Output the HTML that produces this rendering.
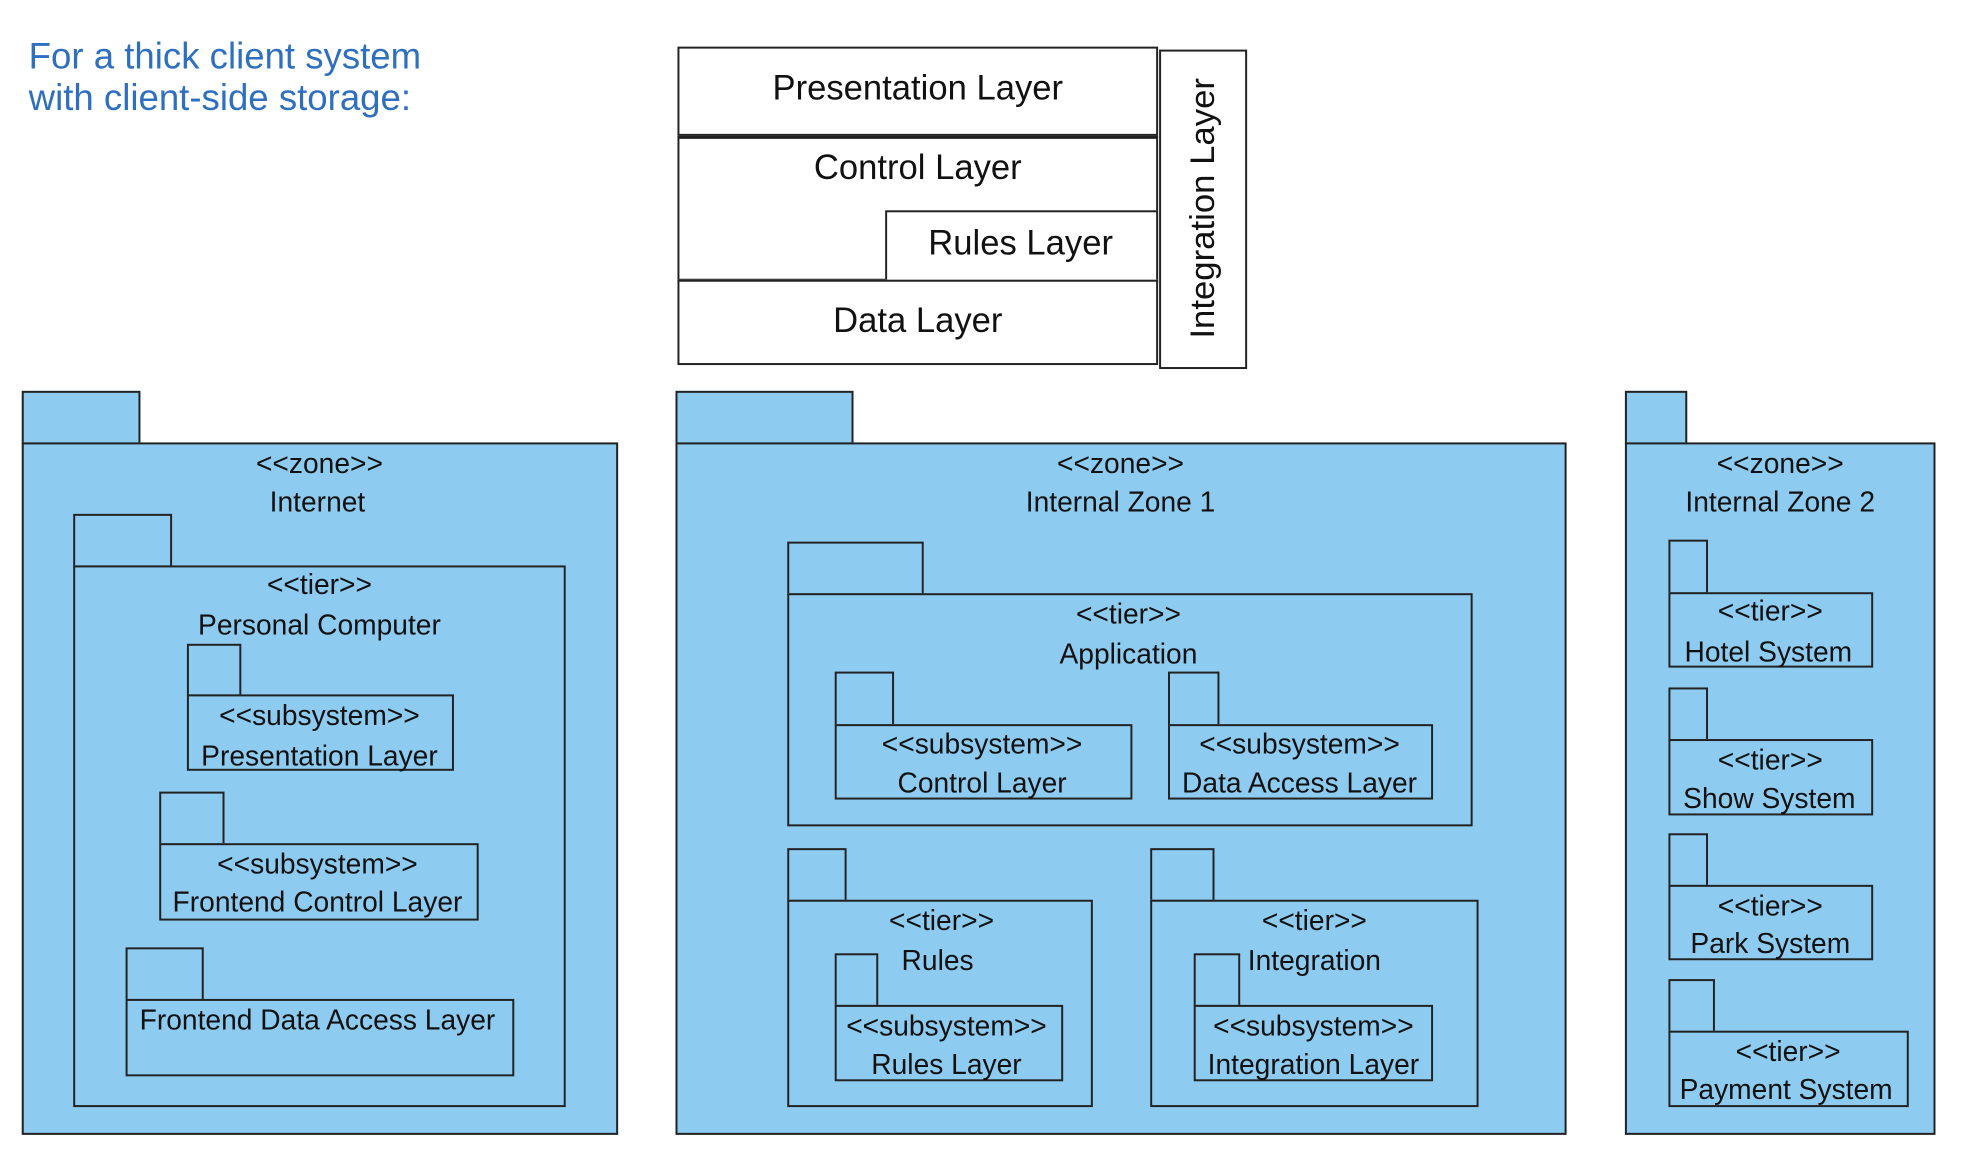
<!DOCTYPE html>
<html><head><meta charset="utf-8"><style>
body{margin:0;width:1984px;height:1168px;background:#fff;position:relative;overflow:hidden;font-family:"Liberation Sans",Arial,sans-serif;}
#c{position:absolute;left:0;top:0;width:1984px;height:1168px;transform:scale(0.989,0.992);transform-origin:0 0;}
.b{position:absolute;box-sizing:border-box;border:2px solid #222;background:#8ecbf0;}
.w{position:absolute;box-sizing:border-box;border:2px solid #222;background:#fff;}
.t{position:absolute;transform:translate(-50%,-50%);white-space:nowrap;font-size:28.5px;color:#111;line-height:1;}
.L{font-size:35px;}
</style></head><body><div id="c">
<div style="position:absolute;left:29px;top:36px;font-size:37px;color:#2f6fc0;line-height:42px;">For a thick client system<br>with client-side storage:</div>

<div class="w" style="left:685px;top:47px;width:486px;height:92px;border-bottom-width:4px"></div>
<div class="w" style="left:685px;top:137px;width:486px;height:148px;border-top-width:3px;border-bottom-width:4px"></div>
<div class="w" style="left:895px;top:212px;width:276px;height:72px"></div>
<div class="w" style="left:685px;top:282px;width:486px;height:86px;border-top-width:2px"></div>
<div class="w" style="left:1172px;top:50px;width:89px;height:322px"></div>
<div class="t L" style="left:928px;top:89px">Presentation Layer</div>
<div class="t L" style="left:928px;top:169px">Control Layer</div>
<div class="t L" style="left:1032px;top:245px">Rules Layer</div>
<div class="t L" style="left:928px;top:323px">Data Layer</div>
<div class="t L" style="left:1216px;top:210px;transform:translate(-50%,-50%) rotate(-90deg)">Integration Layer</div>

<div class="b" style="left:22px;top:394px;width:120px;height:54px"></div>
<div class="b" style="left:22px;top:446px;width:603px;height:698px"></div>
<div class="t" style="left:323px;top:468px">&lt;&lt;zone&gt;&gt;</div>
<div class="t" style="left:321px;top:507px">Internet</div>
<div class="b" style="left:74px;top:518px;width:100px;height:54px"></div>
<div class="b" style="left:74px;top:570px;width:498px;height:546px"></div>
<div class="t" style="left:323px;top:590px">&lt;&lt;tier&gt;&gt;</div>
<div class="t" style="left:323px;top:631px">Personal Computer</div>
<div class="b" style="left:189px;top:649px;width:55px;height:53px"></div>
<div class="b" style="left:189px;top:700px;width:270px;height:77px"></div>
<div class="t" style="left:323px;top:722px">&lt;&lt;subsystem&gt;&gt;</div>
<div class="t" style="left:323px;top:763px">Presentation Layer</div>
<div class="b" style="left:161px;top:798px;width:66px;height:54px"></div>
<div class="b" style="left:161px;top:850px;width:323px;height:78px"></div>
<div class="t" style="left:321px;top:872px">&lt;&lt;subsystem&gt;&gt;</div>
<div class="t" style="left:321px;top:910px">Frontend Control Layer</div>
<div class="b" style="left:127px;top:955px;width:79px;height:54px"></div>
<div class="b" style="left:127px;top:1007px;width:393px;height:78px"></div>
<div class="t" style="left:321px;top:1029px">Frontend Data Access Layer</div>

<div class="b" style="left:683px;top:394px;width:180px;height:54px"></div>
<div class="b" style="left:683px;top:446px;width:901px;height:698px"></div>
<div class="t" style="left:1133px;top:468px">&lt;&lt;zone&gt;&gt;</div>
<div class="t" style="left:1133px;top:507px">Internal Zone 1</div>
<div class="b" style="left:796px;top:546px;width:138px;height:54px"></div>
<div class="b" style="left:796px;top:598px;width:693px;height:235px"></div>
<div class="t" style="left:1141px;top:620px">&lt;&lt;tier&gt;&gt;</div>
<div class="t" style="left:1141px;top:660px">Application</div>
<div class="b" style="left:844px;top:677px;width:60px;height:55px"></div>
<div class="b" style="left:844px;top:730px;width:301px;height:76px"></div>
<div class="t" style="left:993px;top:751px">&lt;&lt;subsystem&gt;&gt;</div>
<div class="t" style="left:993px;top:790px">Control Layer</div>
<div class="b" style="left:1181px;top:677px;width:52px;height:55px"></div>
<div class="b" style="left:1181px;top:730px;width:268px;height:76px"></div>
<div class="t" style="left:1314px;top:751px">&lt;&lt;subsystem&gt;&gt;</div>
<div class="t" style="left:1314px;top:790px">Data Access Layer</div>
<div class="b" style="left:796px;top:855px;width:60px;height:54px"></div>
<div class="b" style="left:796px;top:907px;width:309px;height:209px"></div>
<div class="t" style="left:952px;top:929px">&lt;&lt;tier&gt;&gt;</div>
<div class="t" style="left:948px;top:969px">Rules</div>
<div class="b" style="left:844px;top:961px;width:44px;height:54px"></div>
<div class="b" style="left:844px;top:1013px;width:231px;height:77px"></div>
<div class="t" style="left:957px;top:1035px">&lt;&lt;subsystem&gt;&gt;</div>
<div class="t" style="left:957px;top:1074px">Rules Layer</div>
<div class="b" style="left:1163px;top:855px;width:65px;height:54px"></div>
<div class="b" style="left:1163px;top:907px;width:332px;height:209px"></div>
<div class="t" style="left:1329px;top:929px">&lt;&lt;tier&gt;&gt;</div>
<div class="b" style="left:1207px;top:961px;width:47px;height:54px"></div>
<div class="b" style="left:1207px;top:1013px;width:242px;height:77px"></div>
<div class="t" style="left:1329px;top:969px">Integration</div>
<div class="t" style="left:1328px;top:1035px">&lt;&lt;subsystem&gt;&gt;</div>
<div class="t" style="left:1328px;top:1074px">Integration Layer</div>

<div class="b" style="left:1643px;top:394px;width:63px;height:54px"></div>
<div class="b" style="left:1643px;top:446px;width:314px;height:698px"></div>
<div class="t" style="left:1800px;top:468px">&lt;&lt;zone&gt;&gt;</div>
<div class="t" style="left:1800px;top:507px">Internal Zone 2</div>
<div class="b" style="left:1687px;top:544px;width:40px;height:55px"></div>
<div class="b" style="left:1687px;top:597px;width:207px;height:76px"></div>
<div class="t" style="left:1790px;top:617px">&lt;&lt;tier&gt;&gt;</div>
<div class="t" style="left:1788px;top:658px">Hotel System</div>
<div class="b" style="left:1687px;top:693px;width:40px;height:54px"></div>
<div class="b" style="left:1687px;top:745px;width:207px;height:77px"></div>
<div class="t" style="left:1790px;top:767px">&lt;&lt;tier&gt;&gt;</div>
<div class="t" style="left:1789px;top:806px">Show System</div>
<div class="b" style="left:1687px;top:840px;width:40px;height:54px"></div>
<div class="b" style="left:1687px;top:892px;width:207px;height:76px"></div>
<div class="t" style="left:1790px;top:914px">&lt;&lt;tier&gt;&gt;</div>
<div class="t" style="left:1790px;top:952px">Park System</div>
<div class="b" style="left:1687px;top:987px;width:47px;height:54px"></div>
<div class="b" style="left:1687px;top:1039px;width:243px;height:77px"></div>
<div class="t" style="left:1808px;top:1061px">&lt;&lt;tier&gt;&gt;</div>
<div class="t" style="left:1806px;top:1099px">Payment System</div>
</div></body></html>
